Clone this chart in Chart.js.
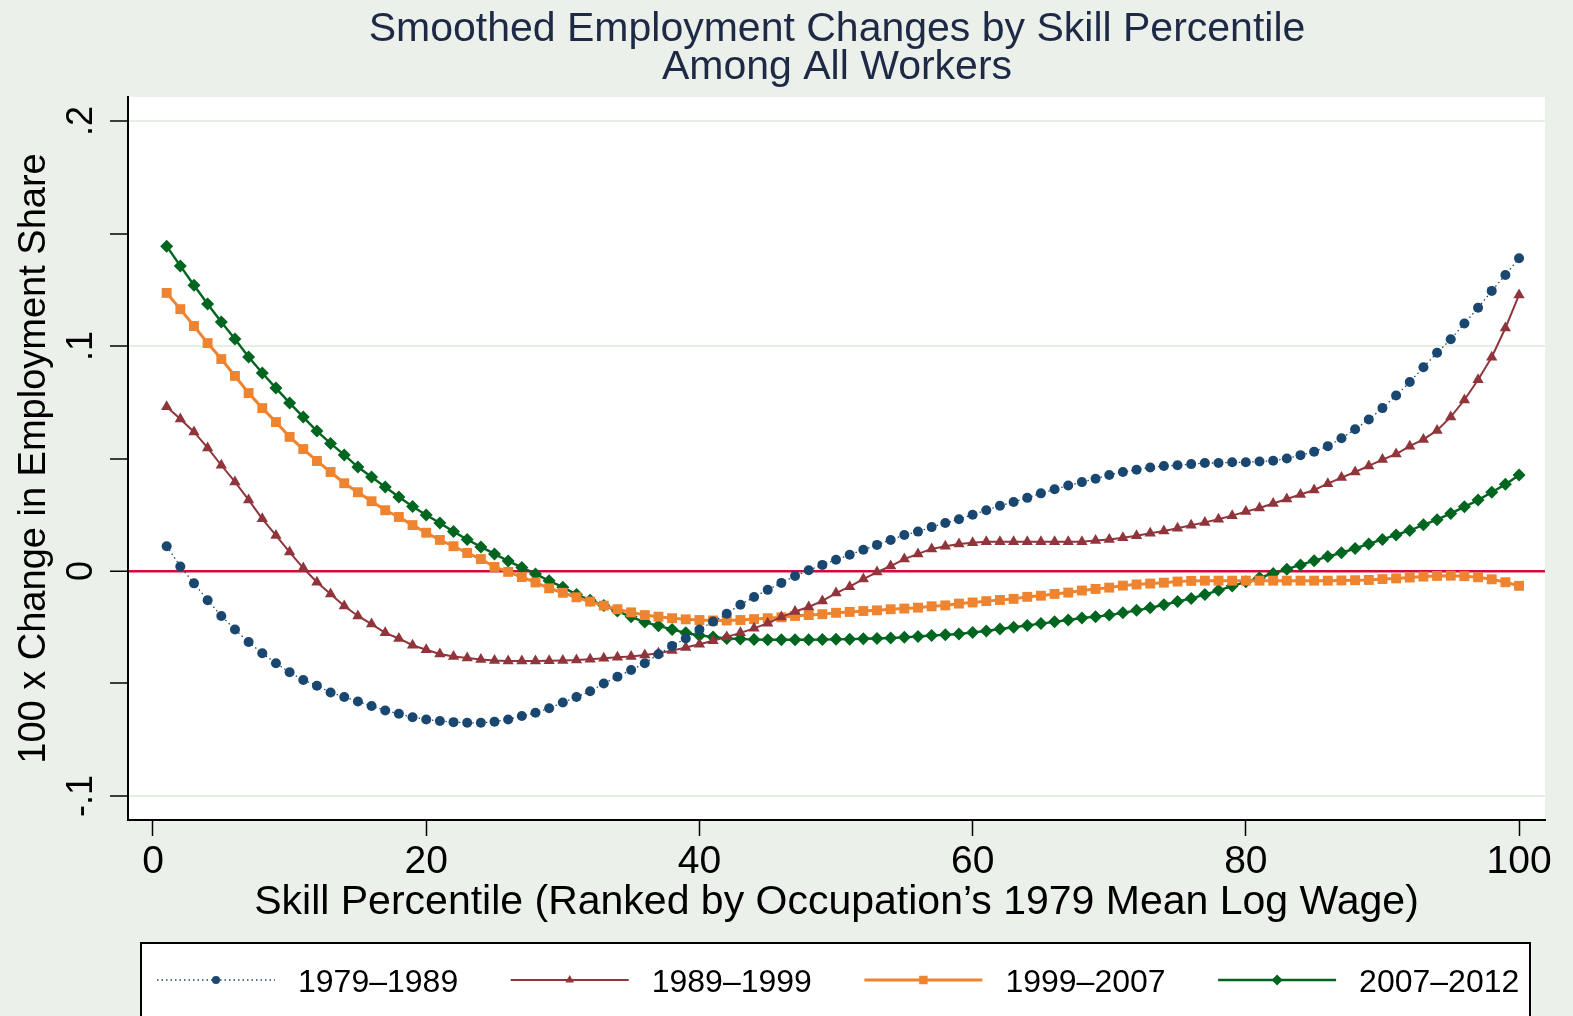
<!DOCTYPE html>
<html>
<head>
<meta charset="utf-8">
<title>Smoothed Employment Changes by Skill Percentile</title>
<script src="https://cdn.jsdelivr.net/npm/chart.js@4.4.1/dist/chart.umd.min.js"></script>
<style>
  html, body { margin: 0; padding: 0; background: #ebf0ea; }
  #wrap { width: 1573px; height: 1016px; }
</style>
</head>
<body>
<div id="wrap"><canvas id="skillChart" width="1573" height="1016"></canvas></div>
<script>
// data -------------------------------------------------------------------------------
const percentiles = [
  1, 2, 3, 4, 5, 6, 7, 8, 9, 10, 11, 12, 13, 14, 15, 16, 17, 18, 19, 20,
  21, 22, 23, 24, 25, 26, 27, 28, 29, 30, 31, 32, 33, 34, 35, 36, 37, 38, 39, 40,
  41, 42, 43, 44, 45, 46, 47, 48, 49, 50, 51, 52, 53, 54, 55, 56, 57, 58, 59, 60,
  61, 62, 63, 64, 65, 66, 67, 68, 69, 70, 71, 72, 73, 74, 75, 76, 77, 78, 79, 80,
  81, 82, 83, 84, 85, 86, 87, 88, 89, 90, 91, 92, 93, 94, 95, 96, 97, 98, 99, 100
];

const seriesLabels = ['1979\u20131989', '1989\u20131999', '1999\u20132007', '2007\u20132012'];

const change1979 = [
  0.011, 0.002, -0.0055, -0.013, -0.020, -0.026, -0.0316, -0.0366, -0.041, -0.045,
  -0.0485, -0.051, -0.054, -0.056, -0.058, -0.060, -0.062, -0.0635, -0.065, -0.066,
  -0.0667, -0.0672, -0.0675, -0.0675, -0.067, -0.066, -0.0645, -0.063, -0.061, -0.0585,
  -0.056, -0.0535, -0.050, -0.047, -0.044, -0.041, -0.037, -0.0333, -0.030, -0.026,
  -0.0225, -0.019, -0.015, -0.0116, -0.0084, -0.0053, -0.0022, 0.0003, 0.0027, 0.005,
  0.0072, 0.0094, 0.0116, 0.0138, 0.016, 0.0175, 0.0195, 0.0213, 0.023, 0.025,
  0.027, 0.029, 0.0307, 0.0325, 0.0345, 0.0363, 0.038, 0.0395, 0.041, 0.0427,
  0.044, 0.045, 0.046, 0.0467, 0.047, 0.0475, 0.048, 0.048, 0.0483, 0.0483,
  0.0487, 0.049, 0.050, 0.0515, 0.053, 0.0555, 0.059, 0.063, 0.0673, 0.0724,
  0.078, 0.084, 0.0906, 0.097, 0.103, 0.110, 0.117, 0.1245, 0.1316, 0.139
];

const change1989 = [
  0.073, 0.0676, 0.0618, 0.0547, 0.047, 0.0396, 0.0316, 0.0232, 0.0158, 0.0084,
  0.0013, -0.005, -0.0102, -0.0156, -0.020, -0.0236, -0.0275, -0.030, -0.033, -0.035,
  -0.0369, -0.038, -0.0387, -0.0394, -0.0398, -0.040, -0.040, -0.040, -0.0399, -0.0398,
  -0.0396, -0.0392, -0.0388, -0.0384, -0.038, -0.0374, -0.0366, -0.0354, -0.034, -0.0326,
  -0.031, -0.0293, -0.0275, -0.0255, -0.0232, -0.0205, -0.018, -0.016, -0.0133, -0.0098,
  -0.007, -0.0036, -0.0005, 0.0022, 0.0053, 0.0076, 0.0098, 0.011, 0.012, 0.0125,
  0.013, 0.013, 0.013, 0.013, 0.013, 0.013, 0.013, 0.013, 0.0135, 0.014,
  0.0148, 0.0157, 0.0168, 0.0178, 0.019, 0.0203, 0.0216, 0.023, 0.0246, 0.0264,
  0.028, 0.030, 0.032, 0.034, 0.036, 0.0388, 0.0415, 0.044, 0.0467, 0.0495,
  0.052, 0.0555, 0.0585, 0.0625, 0.0685, 0.076, 0.085, 0.095, 0.108, 0.1227
];

const change1999 = [
  0.1236, 0.1164, 0.1089, 0.1013, 0.0942, 0.0867, 0.0791, 0.0724, 0.0662, 0.0596,
  0.0542, 0.0489, 0.044, 0.039, 0.035, 0.031, 0.027, 0.024, 0.0204, 0.017,
  0.0138, 0.011, 0.008, 0.0053, 0.0018, -0.0004, -0.0027, -0.0051, -0.0077, -0.0097,
  -0.0117, -0.0136, -0.0154, -0.017, -0.0184, -0.0196, -0.0203, -0.021, -0.0215, -0.0218,
  -0.022, -0.022, -0.0218, -0.0214, -0.021, -0.0206, -0.020, -0.0196, -0.0192, -0.0186,
  -0.0182, -0.0178, -0.0175, -0.017, -0.0167, -0.0163, -0.0157, -0.0153, -0.0145, -0.014,
  -0.0134, -0.0129, -0.0124, -0.0115, -0.011, -0.0102, -0.0096, -0.0087, -0.008, -0.0074,
  -0.0065, -0.006, -0.0056, -0.0052, -0.0047, -0.0044, -0.0043, -0.0043, -0.0043, -0.0043,
  -0.0043, -0.0043, -0.0043, -0.0043, -0.0043, -0.0043, -0.0042, -0.0041, -0.004, -0.0036,
  -0.0033, -0.0029, -0.0025, -0.0022, -0.0021, -0.0023, -0.0028, -0.0037, -0.005, -0.0066
];

const change2007 = [
  0.1444, 0.1356, 0.127, 0.1187, 0.1107, 0.1031, 0.0951, 0.088, 0.0813, 0.0747,
  0.0684, 0.0622, 0.0567, 0.0516, 0.0462, 0.0418, 0.0373, 0.0329, 0.0287, 0.0249,
  0.0213, 0.0175, 0.014, 0.0107, 0.0076, 0.0044, 0.0016, -0.0013, -0.0044, -0.0072,
  -0.0105, -0.013, -0.0153, -0.0178, -0.0204, -0.0227, -0.0244, -0.026, -0.0275, -0.0287,
  -0.0293, -0.030, -0.0302, -0.0305, -0.0306, -0.0306, -0.0306, -0.0306, -0.0305, -0.0304,
  -0.0303, -0.0301, -0.030, -0.0298, -0.0295, -0.0291, -0.0287, -0.0284, -0.028, -0.0273,
  -0.0267, -0.0258, -0.025, -0.0242, -0.0234, -0.0226, -0.0218, -0.0209, -0.0203, -0.0196,
  -0.0186, -0.0175, -0.0164, -0.015, -0.0136, -0.0122, -0.0105, -0.0086, -0.0067, -0.0048,
  -0.003, -0.0011, 0.0008, 0.0027, 0.0046, 0.0064, 0.0081, 0.010, 0.012, 0.014,
  0.016, 0.018, 0.0205, 0.0228, 0.0256, 0.0285, 0.0315, 0.035, 0.0385, 0.0427
];

const xTicks = [0, 20, 40, 60, 80, 100];
const yTicks = [-0.1, -0.05, 0, 0.05, 0.1, 0.15, 0.2];
const yLabels = ['-.1', '', '0', '', '.1', '', '.2'];

// styling ---------------------------------------------------------------------------
const FONT = "'Liberation Sans', Arial, Helvetica, sans-serif";
const BG = '#ebf0ea';
const GRID = '#e6eee6';
const ZERO_LINE = '#d40a3c';

function toPoints(values) {
  return percentiles.map((p, i) => ({ x: p, y: values[i] }));
}

// paints the grey page and the white plot region
const backgroundPlugin = {
  id: 'stataBackground',
  beforeDraw(chart) {
    const { ctx, chartArea } = chart;
    ctx.save();
    ctx.fillStyle = BG;
    ctx.fillRect(0, 0, chart.width, chart.height);
    ctx.fillStyle = '#ffffff';
    ctx.fillRect(chartArea.left, chartArea.top, chartArea.right - chartArea.left, chartArea.bottom - chartArea.top);
    ctx.restore();
  }
};

// two line title over the plot
const titlePlugin = {
  id: 'twoLineTitle',
  afterDraw(chart) {
    const { ctx } = chart;
    ctx.save();
    ctx.fillStyle = '#1e2a45';
    ctx.font = '41px ' + FONT;
    ctx.textAlign = 'center';
    ctx.textBaseline = 'middle';
    ctx.fillText('Smoothed Employment Changes by Skill Percentile', 837, 30);
    ctx.fillText('Among All Workers', 837, 68);
    ctx.restore();
  }
};

// boxed legend with line + marker samples, as in the Stata figure
const legendPlugin = {
  id: 'boxLegend',
  afterDraw(chart) {
    const { ctx } = chart;
    ctx.save();
    ctx.fillStyle = '#ffffff';
    ctx.fillRect(141, 943, 1389, 80);
    ctx.strokeStyle = '#000000';
    ctx.lineWidth = 2;
    ctx.strokeRect(141, 943, 1389, 80);

    const rowY = 980;
    chart.data.datasets.forEach((ds, i) => {
      const x0 = 157 + i * 353.7;
      const x1 = x0 + 118;
      ctx.save();
      ctx.strokeStyle = ds.borderColor;
      ctx.lineWidth = ds.borderWidth;
      ctx.setLineDash(ds.borderDash || []);
      ctx.beginPath();
      ctx.moveTo(x0, rowY);
      ctx.lineTo(x1, rowY);
      ctx.stroke();
      ctx.restore();

      ctx.fillStyle = ds.pointBackgroundColor;
      Chart.helpers.drawPoint(ctx, {
        pointStyle: ds.pointStyle,
        radius: ds.legendRadius,
        borderWidth: 0,
        rotation: 0
      }, (x0 + x1) / 2, rowY);

      ctx.fillStyle = '#000000';
      ctx.font = '32px ' + FONT;
      ctx.textAlign = 'left';
      ctx.textBaseline = 'middle';
      ctx.fillText(ds.label, x0 + 141, rowY + 3);
    });
    ctx.restore();
  }
};

const ctx = document.getElementById('skillChart').getContext('2d');
const skillChart = new Chart(ctx, {
  type: 'line',
  data: {
    datasets: [
      {
        label: seriesLabels[0],
        data: toPoints(change1979),
        borderColor: '#1a476f',
        borderWidth: 1.3,
        borderDash: [1.5, 3],
        pointStyle: 'circle',
        pointRadius: 5,
        pointBackgroundColor: '#1a476f',
        pointBorderWidth: 0,
        legendRadius: 4
      },
      {
        label: seriesLabels[1],
        data: toPoints(change1989),
        borderColor: '#90353b',
        borderWidth: 2,
        pointStyle: 'triangle',
        pointRadius: 6.5,
        pointBackgroundColor: '#90353b',
        pointBorderWidth: 0,
        legendRadius: 5
      },
      {
        label: seriesLabels[2],
        data: toPoints(change1999),
        borderColor: '#ef8430',
        borderWidth: 3,
        pointStyle: 'rect',
        pointRadius: 7,
        pointBackgroundColor: '#ef8430',
        pointBorderWidth: 0,
        legendRadius: 6
      },
      {
        label: seriesLabels[3],
        data: toPoints(change2007),
        borderColor: '#00661f',
        borderWidth: 2.4,
        pointStyle: 'rectRot',
        pointRadius: 6.5,
        pointBackgroundColor: '#00661f',
        pointBorderWidth: 0,
        legendRadius: 5.5
      }
    ]
  },
  options: {
    responsive: false,
    animation: false,
    devicePixelRatio: 1,
    layout: {
      padding: { top: 97, right: 28, bottom: 89, left: 0 }
    },
    plugins: {
      legend: { display: false },
      title: { display: false },
      tooltip: { enabled: false }
    },
    scales: {
      x: {
        type: 'linear',
        min: -1.83,
        max: 101.9,
        afterBuildTicks: scale => { scale.ticks = xTicks.map(v => ({ value: v })); },
        afterFit: scale => { scale.height = 107; },
        border: { display: true, color: '#000000', width: 2 },
        grid: {
          drawOnChartArea: false,
          drawTicks: true,
          tickLength: 16,
          tickWidth: 1.5,
          tickColor: '#000000'
        },
        ticks: {
          color: '#000000',
          font: { family: FONT, size: 39 },
          padding: 3,
          maxRotation: 0,
          autoSkip: false
        },
        title: {
          display: true,
          text: 'Skill Percentile (Ranked by Occupation\u2019s 1979 Mean Log Wage)',
          color: '#000000',
          font: { family: FONT, size: 41 },
          padding: { top: 0, bottom: 0 }
        }
      },
      y: {
        type: 'linear',
        min: -0.1107,
        max: 0.2107,
        afterBuildTicks: scale => { scale.ticks = yTicks.map(v => ({ value: v })); },
        afterFit: scale => { scale.width = 128; },
        border: { display: true, color: '#000000', width: 2 },
        grid: {
          drawTicks: true,
          tickLength: 18,
          tickWidth: 1.5,
          tickColor: '#000000',
          color: c => {
            if (!c.tick) return 'transparent';
            const v = Math.round(c.tick.value * 100) / 100;
            if (v === 0) return ZERO_LINE;
            return yLabels[yTicks.indexOf(v)] ? GRID : 'transparent';
          },
          lineWidth: c => (c.tick && Math.abs(c.tick.value) < 1e-9 ? 2.5 : 2)
        },
        ticks: {
          color: '#000000',
          font: { family: FONT, size: 36 },
          minRotation: 90,
          maxRotation: 90,
          crossAlign: 'center',
          padding: 7,
          autoSkip: false,
          callback: (value, index) => yLabels[index]
        },
        title: {
          display: true,
          text: '100 x Change in Employment Share',
          color: '#000000',
          font: { family: FONT, size: 38 },
          padding: { top: 12, bottom: 0 }
        }
      }
    }
  },
  plugins: [backgroundPlugin, titlePlugin, legendPlugin]
});
</script>
</body>
</html>
